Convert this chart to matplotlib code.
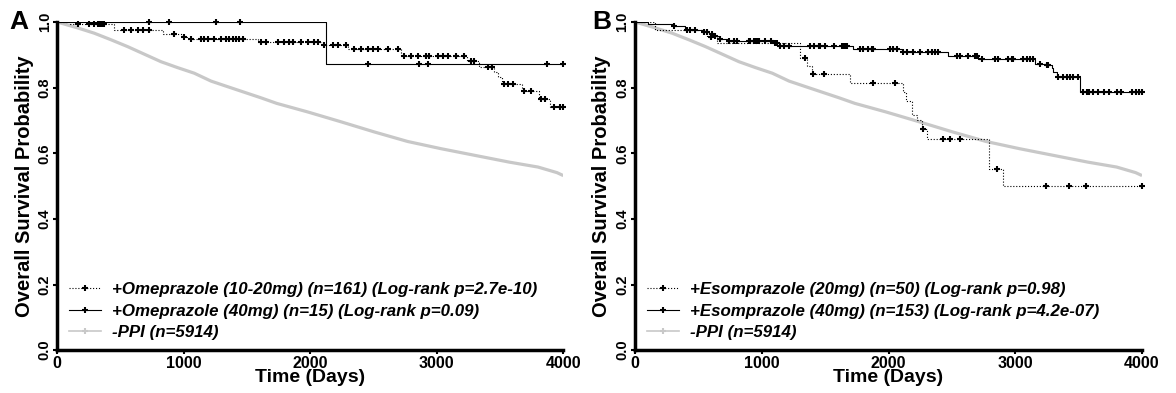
import numpy as np
import matplotlib
matplotlib.use("Agg")
import matplotlib.pyplot as plt
from matplotlib.lines import Line2D

plt.rcParams['font.family'] = ['Liberation Sans', 'DejaVu Sans']
plt.rcParams['font.weight'] = 'bold'
plt.rcParams['axes.labelweight'] = 'bold'

# -PPI reference curve (same cohort in both panels)
ppi_days = [0, 161, 292, 424, 556, 688, 820, 951, 1083, 1215, 1346, 1478, 1610,
            1735, 1979, 2242, 2506, 2769, 3033, 3296, 3573, 3800, 3950, 4000]
ppi_surv = [1.0, 0.982, 0.966, 0.946, 0.925, 0.902, 0.879, 0.861, 0.844, 0.820,
            0.803, 0.786, 0.769, 0.752, 0.726, 0.696, 0.665, 0.636, 0.614, 0.594,
            0.573, 0.558, 0.541, 0.532]

# Panel A: Omeprazole 10-20mg (step times / survival) and censoring times
om_lo_t = [0, 100, 451, 833, 991, 1030, 1583, 2097, 2300, 2717, 3236, 3336, 3455,
           3480, 3515, 3676, 3810, 3898, 4000]
om_lo_s = [1.0, 0.993, 0.977, 0.964, 0.953, 0.948, 0.939, 0.930, 0.919, 0.897,
           0.881, 0.864, 0.849, 0.833, 0.811, 0.790, 0.765, 0.740, 0.740]
om_lo_cens = [161, 253, 292, 319, 332, 345, 358, 371, 530, 582, 635, 675, 727, 925,
              1004, 1057, 1136, 1162, 1188, 1241, 1294, 1334, 1360, 1386, 1413, 1439,
              1465, 1610, 1650, 1742, 1794, 1834, 1860, 1926, 1979, 2032, 2058, 2111,
              2176, 2216, 2282, 2348, 2401, 2453, 2493, 2532, 2611, 2690, 2743, 2796,
              2848, 2915, 2941, 3006, 3046, 3085, 3152, 3217, 3270, 3296, 3402, 3433,
              3534, 3560, 3600, 3692, 3747, 3826, 3854, 3929, 3973, 4000]

# Panel A: Omeprazole 40mg
om_hi_t = [0, 2127, 4000]
om_hi_s = [1.0, 0.872, 0.872]
om_hi_cens = [727, 885, 1254, 1444, 2458, 2856, 2930, 3869, 4000]

# Panel B: Esomprazole 20mg
es_lo_t = [0, 160, 568, 647, 1304, 1360, 1397, 1699, 2117, 2138, 2188, 2223, 2262,
           2306, 2795, 2901, 4000]
es_lo_s = [1.0, 0.976, 0.955, 0.936, 0.890, 0.866, 0.841, 0.815, 0.786, 0.759,
           0.716, 0.700, 0.673, 0.643, 0.551, 0.500, 0.500]
es_lo_cens = [600, 1340, 1408, 1488, 1875, 2051, 2269, 2433, 2485, 2564, 2853, 3240,
              3420, 3555, 4000]

# Panel B: Esomprazole 40mg
es_hi_t = [0, 100, 305, 397, 529, 580, 621, 660, 726, 1094, 1121, 1720, 2104, 2472,
           2709, 3156, 3240, 3288, 3300, 3327, 3511, 4000]
es_hi_s = [1.0, 0.995, 0.987, 0.977, 0.971, 0.963, 0.956, 0.949, 0.943, 0.936, 0.927,
           0.918, 0.908, 0.896, 0.886, 0.872, 0.869, 0.859, 0.847, 0.832, 0.788, 0.788]
es_hi_cens = [305, 410, 437, 476, 542, 568, 608, 634, 673, 739, 779, 805, 897, 910,
              936, 949, 963, 976, 1028, 1073, 1107, 1120, 1147, 1173, 1213, 1383, 1410,
              1449, 1462, 1502, 1568, 1633, 1647, 1660, 1673, 1775, 1801, 1841, 1868,
              1880, 2012, 2038, 2065, 2117, 2144, 2196, 2249, 2314, 2341, 2367, 2393,
              2538, 2564, 2630, 2683, 2696, 2735, 2840, 2867, 2946, 2972, 2985, 3064,
              3090, 3117, 3143, 3195, 3248, 3261, 3340, 3380, 3406, 3432, 3458, 3498,
              3537, 3569, 3581, 3610, 3655, 3699, 3743, 3802, 3832, 3921, 3950, 3979,
              4000]

labels_a = ['+Omeprazole (10-20mg) (n=161) (Log-rank p=2.7e-10)',
            '+Omeprazole (40mg) (n=15) (Log-rank p=0.09)',
            '-PPI (n=5914)']
labels_b = ['+Esomprazole (20mg) (n=50) (Log-rank p=0.98)',
            '+Esomprazole (40mg) (n=153) (Log-rank p=4.2e-07)',
            '-PPI (n=5914)']

GRAY = '#c8c8c8'
MK = dict(marker='+', ms=4, mew=1.5)


def surv_at(t, s, times):
    idx = np.searchsorted(t, times, side='right') - 1
    return np.asarray(s)[idx]


def km(ax, t, s, cens, ls):
    ax.step(t, s, where='post', color='black', lw=0.8, ls=ls, zorder=3)
    ax.plot(cens, surv_at(t, s, cens), ls='none', color='black', clip_on=False,
            zorder=4, **MK)


def setup(ax, letter, letter_x, labels):
    ax.plot(ppi_days, ppi_surv, color=GRAY, lw=2.3, zorder=2, solid_capstyle='butt')
    ax.set_xlim(0, 4000)
    ax.set_ylim(0, 1)
    for side in ['top', 'right']:
        ax.spines[side].set_visible(False)
    for side in ['left', 'bottom']:
        ax.spines[side].set_linewidth(2.5)
    ax.set_xticks([0, 1000, 2000, 3000, 4000])
    ax.set_yticks([0.0, 0.2, 0.4, 0.6, 0.8, 1.0])
    ax.set_yticklabels(['0.0', '0.2', '0.4', '0.6', '0.8', '1.0'], rotation=90, va='center')
    ax.tick_params(length=3, width=1.5, pad=1)
    ax.tick_params(axis='x', labelsize=11.5)
    ax.tick_params(axis='y', labelsize=10.5)
    ax.set_xlabel('Time (Days)', fontsize=14, labelpad=-1)
    ax.set_ylabel('Overall Survival Probability', fontsize=14.5, labelpad=3)
    ax.text(letter_x, 1.0, letter, transform=ax.transAxes, fontsize=19,
            ha='left', va='center')
    handles = [Line2D([], [], color='black', lw=0.8, ls=':', **MK),
               Line2D([], [], color='black', lw=0.8, ls='-', **MK),
               Line2D([], [], color=GRAY, lw=1.2, **MK)]
    ax.legend(handles, labels, loc='lower left', bbox_to_anchor=(0.007, 0.004),
              frameon=False, borderpad=0, handlelength=1.9, handletextpad=0.65,
              labelspacing=0.39, prop={'size': 12.2, 'weight': 'bold', 'style': 'italic'})


fig = plt.figure(figsize=(11.76, 3.93), dpi=100)
ax_a = fig.add_axes([0.0487, 0.109, 0.4303, 0.835])
ax_b = fig.add_axes([0.5400, 0.109, 0.4311, 0.835])

setup(ax_a, 'A', -0.094, labels_a)
km(ax_a, om_lo_t, om_lo_s, om_lo_cens, ':')
km(ax_a, om_hi_t, om_hi_s, om_hi_cens, '-')

setup(ax_b, 'B', -0.084, labels_b)
km(ax_b, es_lo_t, es_lo_s, es_lo_cens, ':')
km(ax_b, es_hi_t, es_hi_s, es_hi_cens, '-')

fig.savefig('out.png', dpi=100)
